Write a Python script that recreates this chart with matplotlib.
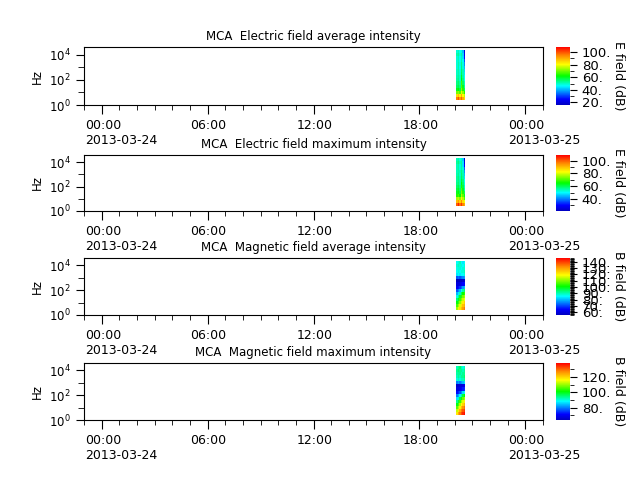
import numpy as np
import matplotlib
matplotlib.use("Agg")
import matplotlib.pyplot as plt
import matplotlib.dates as mdates
import matplotlib.transforms as mtransforms
from matplotlib.colors import LinearSegmentedColormap
from matplotlib.ticker import MultipleLocator, FormatStrFormatter, LogLocator, NullFormatter
from datetime import datetime

# ---- data ----
titles = ["MCA  Electric field average intensity",
          "MCA  Electric field maximum intensity",
          "MCA  Magnetic field average intensity",
          "MCA  Magnetic field maximum intensity"]
cbar_labels = ["E field (dB)", "E field (dB)", "B field (dB)", "B field (dB)"]
vranges = [(16, 108), (21, 109), (56, 146), (64, 138)]

# channel centre frequencies (Hz)
freqs = [3.16, 5.62, 10.0, 17.8, 31.6, 56.2, 100.0, 178.0, 316.0, 562.0,
         1000.0, 1780.0, 3160.0, 5620.0, 10000.0, 17800.0]
# time bin edges
time_edges = ["2013-03-24 20:05", "2013-03-24 20:10", "2013-03-24 20:15",
              "2013-03-24 20:21", "2013-03-24 20:26", "2013-03-24 20:31",
              "2013-03-24 20:36"]

# rows = frequency channels (low -> high), columns = time bins
e_avg = [
    [95, 100, 92, 98, 90, 85],
    [84, 88, 82, 90, 80, 76],
    [70, 72, 68, 78, 72, 64],
    [60, 62, 58, 72, 64, 56],
    [56, 58, 54, 68, 60, 52],
    [54, 56, 52, 66, 56, 50],
    [52, 54, 50, 62, 54, 47],
    [51, 53, 50, 60, 52, 46],
    [50, 52, 49, 57, 51, 45],
    [50, 52, 48, 56, 51, 43],
    [49, 52, 47, 55, 49, 41],
    [49, 52, 48, 54, 48, 37],
    [49, 51, 47, 52, 47, 32],
    [49, 51, 47, 51, 44, 26],
    [51, 53, 49, 52, 43, 22],
    [49, 51, 47, 49, 41, 20],
]
e_max = [
    [100, 106, 98, 104, 96, 92],
    [90, 94, 88, 95, 86, 82],
    [76, 78, 74, 84, 77, 70],
    [67, 69, 65, 77, 71, 63],
    [63, 65, 61, 73, 67, 59],
    [61, 63, 59, 71, 63, 55],
    [59, 61, 57, 67, 61, 53],
    [57, 59, 55, 65, 59, 51],
    [56, 58, 55, 62, 58, 50],
    [56, 58, 54, 60, 56, 48],
    [55, 57, 53, 59, 55, 46],
    [54, 56, 54, 58, 54, 42],
    [54, 56, 52, 56, 52, 37],
    [54, 56, 52, 56, 48, 30],
    [56, 58, 54, 56, 48, 26],
    [54, 56, 52, 54, 46, 24],
]
b_avg = [
    [112, 118, 122, 126, 130, 134],
    [106, 112, 117, 122, 126, 128],
    [100, 105, 111, 116, 121, 124],
    [94, 99, 105, 110, 115, 118],
    [87, 92, 98, 104, 109, 112],
    [80, 84, 90, 96, 101, 104],
    [72, 76, 80, 86, 91, 94],
    [64, 66, 69, 73, 78, 80],
    [60, 60, 61, 63, 65, 66],
    [56, 56, 57, 57, 58, 59],
    [72, 74, 72, 74, 76, 78],
    [84, 86, 84, 86, 86, 88],
    [86, 88, 86, 88, 88, 90],
    [87, 88, 88, 86, 88, 88],
    [88, 90, 88, 88, 86, 88],
    [86, 88, 90, 86, 84, 86],
]
b_max = [
    [118, 124, 128, 132, 135, 137],
    [112, 118, 123, 128, 131, 133],
    [106, 111, 117, 122, 126, 129],
    [100, 105, 111, 116, 120, 123],
    [94, 99, 104, 110, 114, 117],
    [87, 91, 97, 102, 107, 110],
    [80, 83, 88, 93, 98, 101],
    [72, 74, 77, 81, 86, 88],
    [68, 68, 69, 71, 73, 74],
    [66, 66, 67, 67, 68, 69],
    [80, 82, 80, 82, 84, 86],
    [90, 92, 90, 92, 92, 94],
    [92, 94, 92, 94, 94, 96],
    [93, 94, 94, 92, 94, 94],
    [94, 96, 94, 94, 92, 94],
    [92, 94, 96, 92, 90, 92],
]
spectra = [e_avg, e_max, b_avg, b_max]
cbar_major = [20, 20, 10, 20]
cbar_minor = [10, 10, 1, 10]

# ---- style ----
cmap = LinearSegmentedColormap.from_list(
    "spec", [(0.0, (0.0, 0.0, 0.75)), (0.1, (0.0, 0.0, 1.0)),
             (0.33, (0.0, 1.0, 1.0)), (0.5, (0.0, 1.0, 0.0)),
             (0.7, (1.0, 1.0, 0.0)), (0.85, (1.0, 0.55, 0.0)),
             (1.0, (1.0, 0.0, 0.0))])

plt.rcParams['font.family'] = ['DejaVu Sans']
fs = 8.5

fig = plt.figure(figsize=(6.4, 4.8), dpi=100)

axes_y = [(47, 105), (155, 211), (258, 315), (363, 420)]
H = 480.0
x0, x1 = 84 / 640, 543 / 640
cx0, cx1 = 556 / 640, 570 / 640

f = np.array(freqs)
lf = np.log10(f)
mids = (lf[:-1] + lf[1:]) / 2
f_edges = 10 ** np.concatenate([[lf[0] - (mids[0] - lf[0])], mids, [lf[-1] + (lf[-1] - mids[-1])]])
t_edges = mdates.date2num([datetime.strptime(s, "%Y-%m-%d %H:%M") for s in time_edges])

xmin = mdates.date2num(datetime(2013, 3, 23, 23, 0))
xmax = mdates.date2num(datetime(2013, 3, 25, 1, 0))

def fmt_time(x, pos=None):
    d = mdates.num2date(x)
    s = d.strftime("%H:%M")
    if d.hour == 0 and d.minute == 0:
        s += "\n" + d.strftime("%Y-%m-%d")
    return s

for i in range(4):
    top, bot = axes_y[i]
    ax = fig.add_axes([x0, 1 - bot / H, x1 - x0, (bot - top) / H])
    vmin, vmax = vranges[i]
    mesh = ax.pcolormesh(t_edges, f_edges, np.array(spectra[i]), cmap=cmap,
                         vmin=vmin, vmax=vmax, shading='flat')
    ax.set_yscale('log')
    ax.set_ylim(1, 10 ** 4.6)
    ax.set_xlim(xmin, xmax)
    ax.yaxis.set_major_locator(LogLocator(base=100.0))
    ax.yaxis.set_minor_locator(LogLocator(base=10.0, subs=(1.0,), numticks=20))
    ax.yaxis.set_minor_formatter(NullFormatter())
    ax.xaxis.set_major_locator(mdates.HourLocator(byhour=[0, 6, 12, 18]))
    ax.xaxis.set_minor_locator(mdates.HourLocator())
    ax.xaxis.set_major_formatter(plt.FuncFormatter(fmt_time))
    ax.tick_params(axis='x', which='major', length=6.5, labelsize=9)
    ax.tick_params(axis='x', which='minor', length=3.5)
    ax.tick_params(axis='y', which='major', length=6, labelsize=fs)
    ax.tick_params(axis='y', which='minor', length=4)
    offset = mtransforms.ScaledTranslation(-17 / 100, 0, fig.dpi_scale_trans)
    for lab in ax.get_xticklabels():
        lab.set_horizontalalignment('left')
        lab.set_multialignment('left')
        lab.set_transform(lab.get_transform() + offset)
    ax.set_ylabel("Hz", fontsize=fs)
    ax.set_title(titles[i], fontsize=fs, pad=5)

    cax = fig.add_axes([cx0, 1 - bot / H, cx1 - cx0, (bot - top) / H])
    cb = fig.colorbar(mesh, cax=cax)
    cb.outline.set_visible(False)
    cb.locator = MultipleLocator(cbar_major[i])
    cb.formatter = FormatStrFormatter('%d.')
    cb.update_ticks()
    cax.yaxis.set_minor_locator(MultipleLocator(cbar_minor[i]))
    cax.tick_params(which='major', length=5, labelsize=fs + 1)
    cax.tick_params(which='minor', length=3)
    cb.set_label(cbar_labels[i], rotation=270, fontsize=fs + 0.5, labelpad=10)

fig.savefig("out.png", dpi=100)
